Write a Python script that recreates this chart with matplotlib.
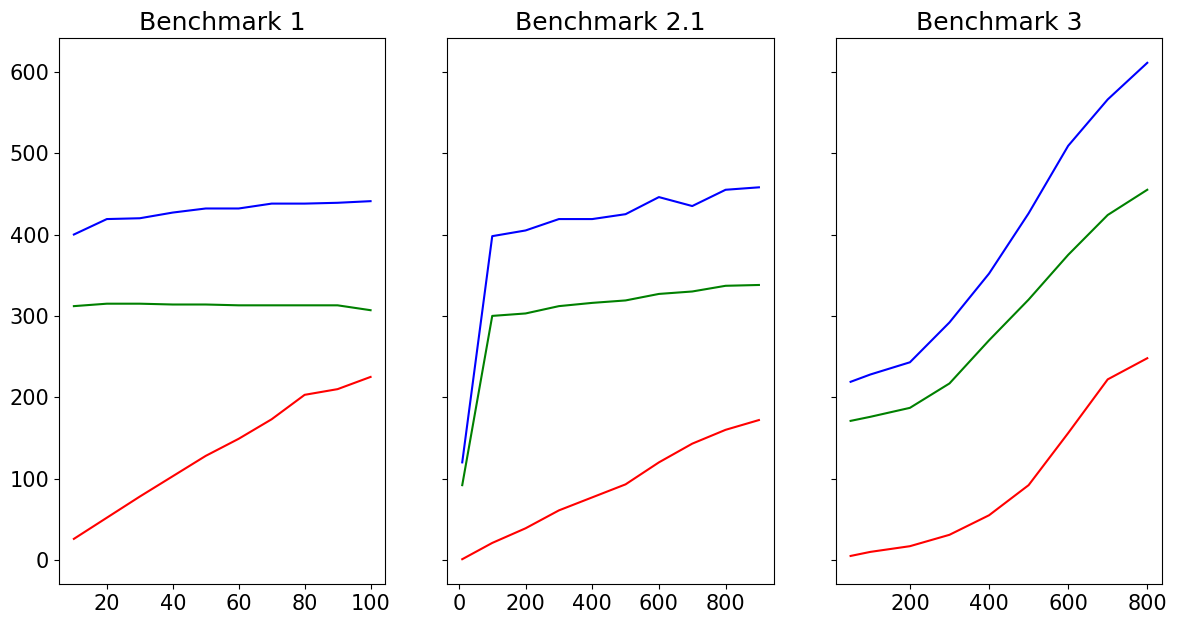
import matplotlib
matplotlib.use("Agg")
import matplotlib.pyplot as plt

titles = ["Benchmark 1", "Benchmark 2.1", "Benchmark 3"]

x1 = [10, 20, 30, 40, 50, 60, 70, 80, 90, 100]
blue1 = [400, 419, 420, 427, 432, 432, 438, 438, 439, 441]
green1 = [312, 315, 315, 314, 314, 313, 313, 313, 313, 307]
red1 = [26, 52, 78, 103, 128, 149, 173, 203, 210, 225]

x2 = [10, 100, 200, 300, 400, 500, 600, 700, 800, 900]
blue2 = [120, 398, 405, 419, 419, 425, 446, 435, 455, 458]
green2 = [92, 300, 303, 312, 316, 319, 327, 330, 337, 338]
red2 = [1, 21, 39, 61, 77, 93, 120, 143, 160, 172]

x3 = [50, 100, 200, 300, 400, 500, 600, 700, 800]
blue3 = [219, 228, 243, 292, 352, 426, 509, 566, 611]
green3 = [171, 176, 187, 217, 270, 320, 375, 424, 455]
red3 = [5, 10, 17, 31, 55, 92, 156, 222, 248]

data = [(x1, blue1, green1, red1), (x2, blue2, green2, red2), (x3, blue3, green3, red3)]

plt.rcParams['font.size'] = 15
fig, axes = plt.subplots(1, 3, figsize=(11.81, 6.19), dpi=100, sharey=True)
fig.subplots_adjust(left=0.05, right=0.984, bottom=0.0565, top=0.9386, wspace=0.19)

for ax, title, (x, b, g, r) in zip(axes, titles, data):
    ax.plot(x, b, color='blue', lw=1.5)
    ax.plot(x, g, color='green', lw=1.5)
    ax.plot(x, r, color='red', lw=1.5)
    ax.set_title(title, fontsize=18)
    ax.tick_params(labelsize=15)

axes[0].set_yticks([0, 100, 200, 300, 400, 500, 600])
axes[0].set_xticks([20, 40, 60, 80, 100])
axes[1].set_xticks([0, 200, 400, 600, 800])
axes[2].set_xticks([200, 400, 600, 800])

fig.savefig("out.png")
